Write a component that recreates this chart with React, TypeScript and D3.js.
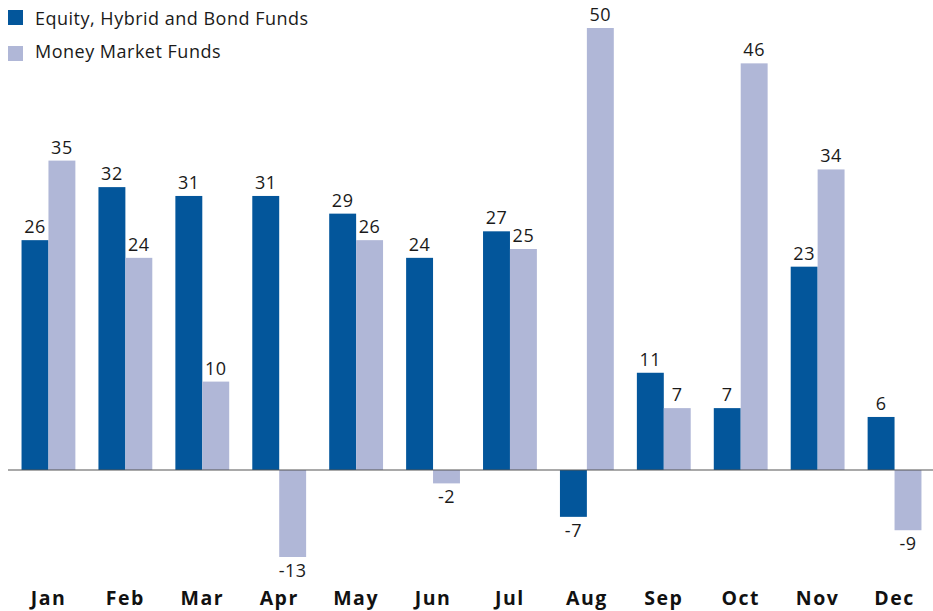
import React, { useEffect } from "react";
import * as d3 from "d3";

const months = ["Jan", "Feb", "Mar", "Apr", "May", "Jun", "Jul", "Aug", "Sep", "Oct", "Nov", "Dec"];
const equityValues = [26, 32, 31, 31, 29, 24, 27, -7, 11, 7, 23, 6];
const moneyValues = [35, 24, 10, -13, 26, -2, 25, 50, 7, 46, 34, -9];
const seriesNames = ["Equity, Hybrid and Bond Funds", "Money Market Funds"];
const colors = ["#03569b", "#b0b7d7"];

const W = 933;
const H = 611;
const FONT = "'Open Sans', Lato, sans-serif";

export default function App() {
  useEffect(() => {
    document.body.style.margin = "0";
  }, []);

  const x = d3.scaleBand<string>().domain(months).range([10, 933]).paddingInner(0.3).paddingOuter(0.15);
  const x1 = d3.scaleBand<string>().domain(["e", "m"]).range([0, x.bandwidth()]);
  const y = d3.scaleLinear().domain([-13, 0, 50]).range([557, 470, 28]);

  const series = [
    { key: "e", values: equityValues, color: colors[0] },
    { key: "m", values: moneyValues, color: colors[1] },
  ];

  return (
    <svg width={W} height={H} style={{ display: "block" }} fontFamily={FONT}>
      {seriesNames.map((name, i) => (
        <g key={name} transform={`translate(8, ${10 + i * 36})`}>
          <rect width={15} height={15} fill={colors[i]} />
          <text x={27} y={i === 0 ? 15 : 12} fontSize={18} letterSpacing={0.5} fill="#1a1a1a">
            {name}
          </text>
        </g>
      ))}

      {series.map((s) =>
        s.values.map((v, i) => {
          const bx = (x(months[i]) ?? 0) + (x1(s.key) ?? 0);
          const bw = x1.bandwidth();
          const top = Math.min(y(v), y(0));
          const h = Math.abs(y(v) - y(0));
          return (
            <g key={s.key + i}>
              <rect x={bx} y={top} width={bw} height={h} fill={s.color} />
              <text
                x={bx + bw / 2}
                y={v >= 0 ? y(v) - 7 : y(v) + 20}
                textAnchor="middle"
                fontSize={18}
                letterSpacing={0.5}
                fill="#1a1a1a"
              >
                {v}
              </text>
            </g>
          );
        })
      )}

      <line x1={8} x2={933} y1={y(0)} y2={y(0)} stroke="#555" strokeWidth={1.2} />

      {months.map((m) => (
        <text
          key={m}
          x={(x(m) ?? 0) + x.bandwidth() / 2}
          y={605}
          textAnchor="middle"
          fontSize={19.5}
          fontWeight="bold"
          letterSpacing={1.5}
          fill="#111"
        >
          {m}
        </text>
      ))}
    </svg>
  );
}
